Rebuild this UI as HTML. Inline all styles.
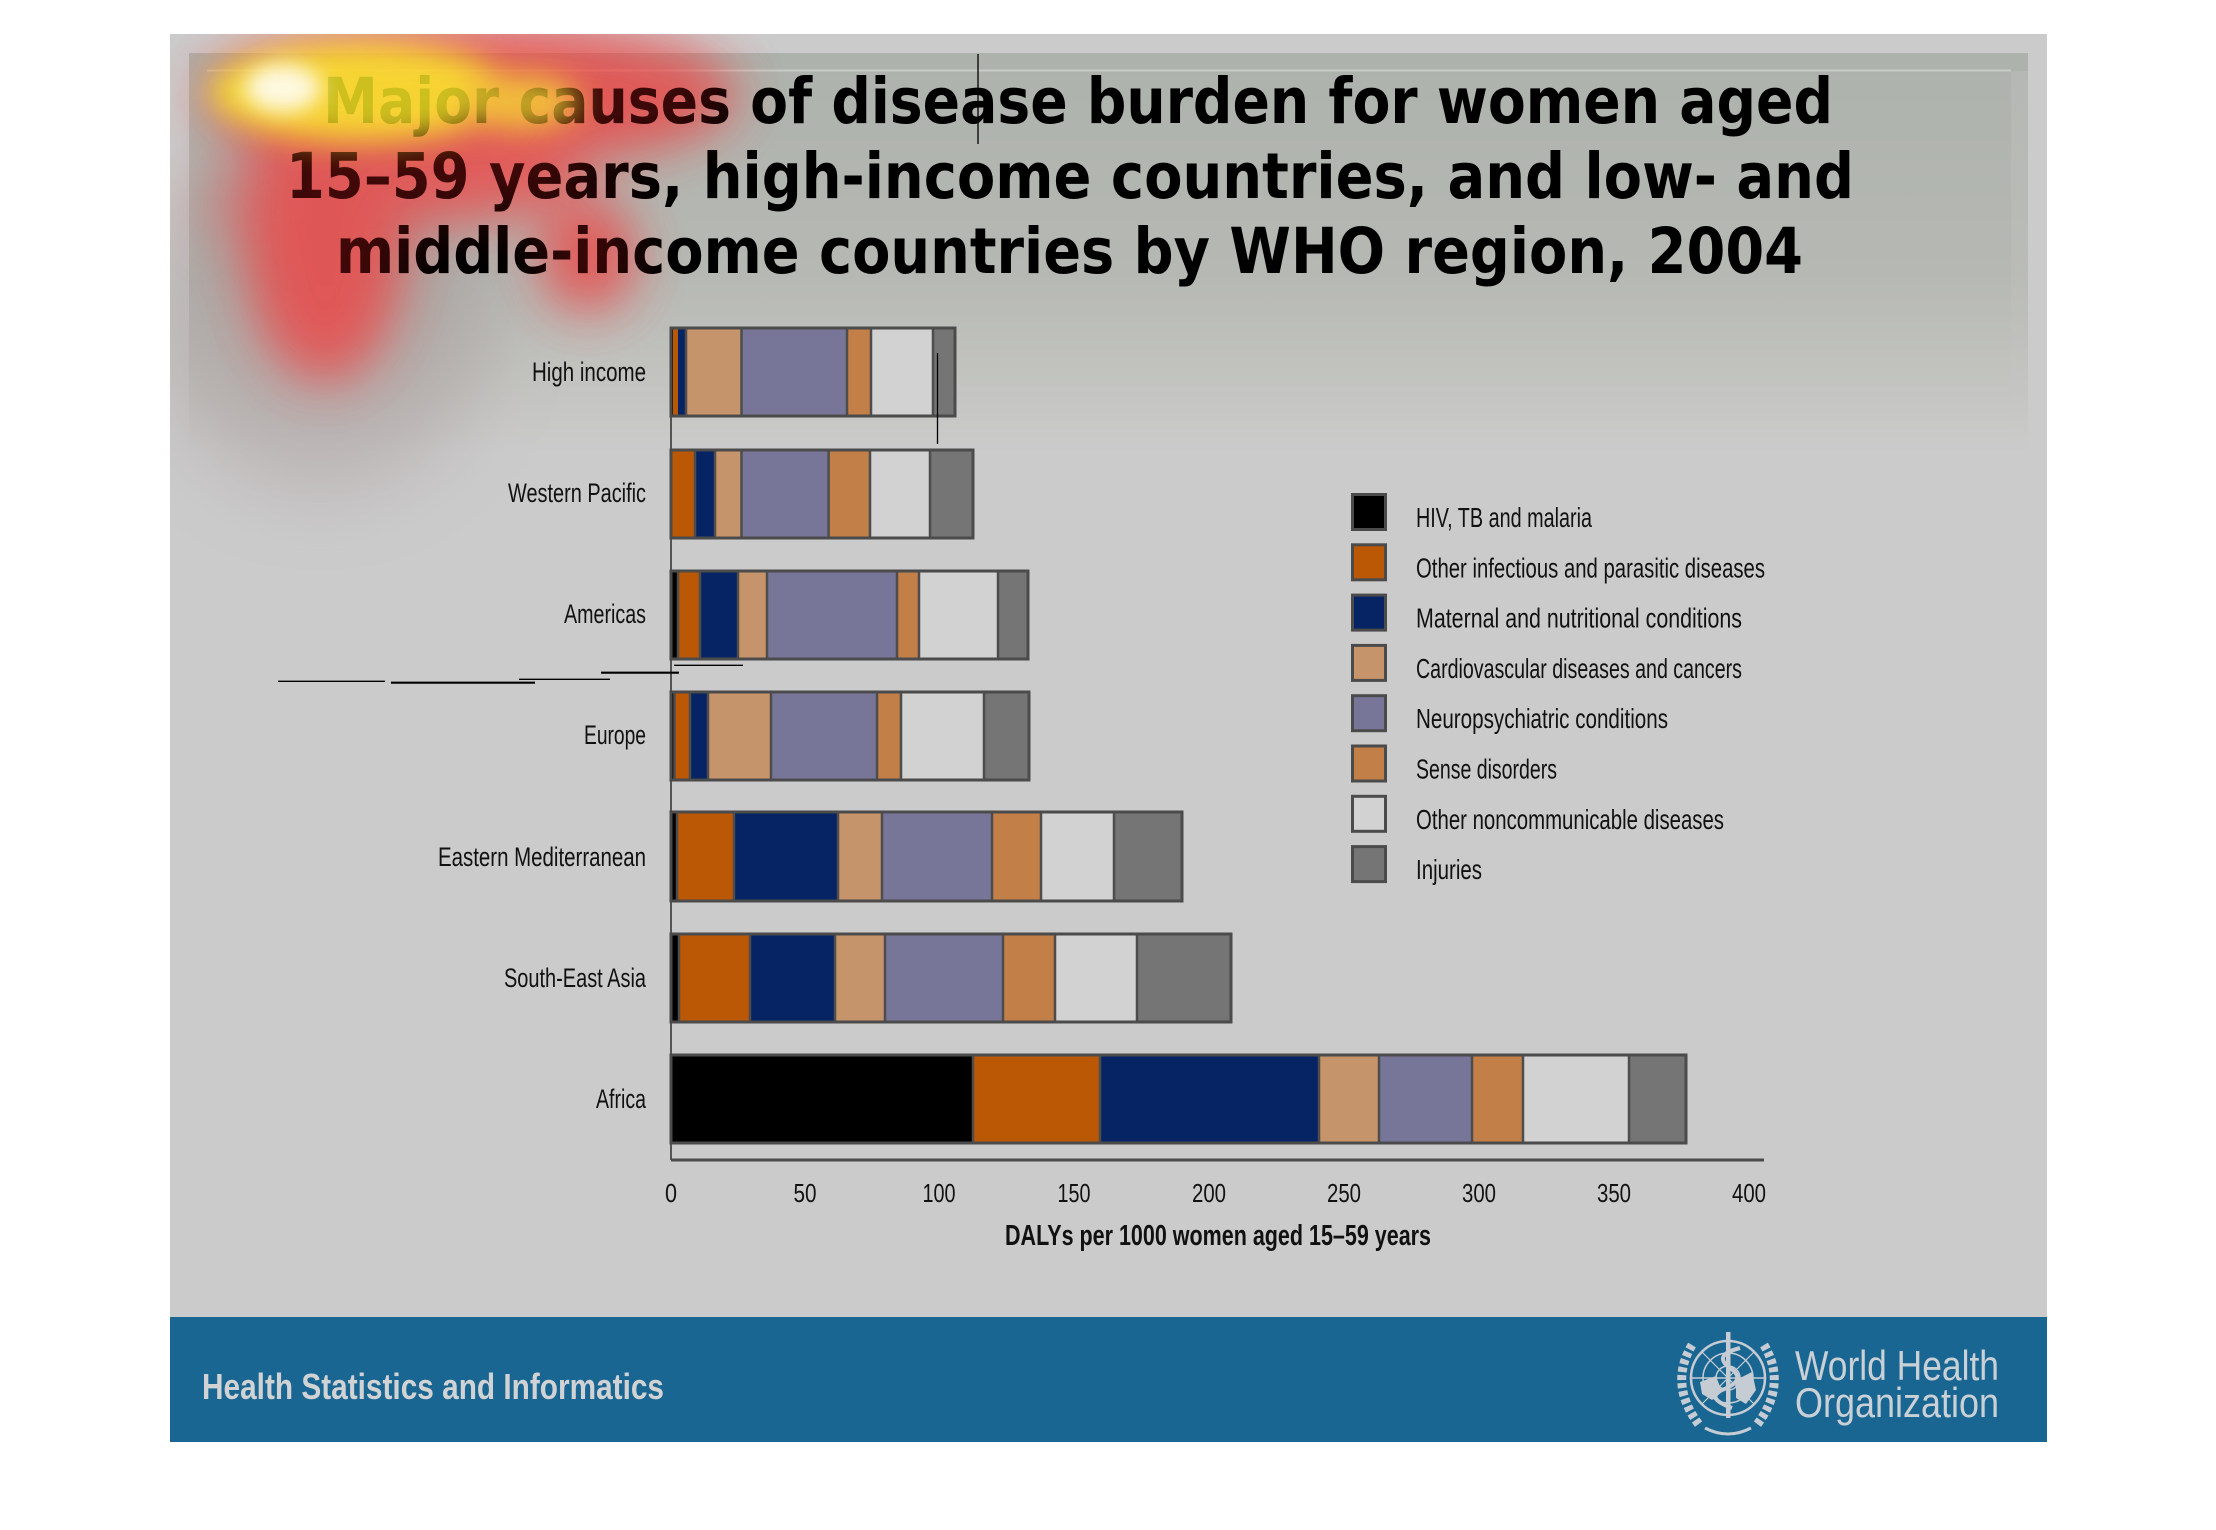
<!DOCTYPE html>
<html><head><meta charset="utf-8"><style>
html,body{margin:0;padding:0;background:#fff;}
svg{display:block;}
.lab{font-family:"Liberation Sans Narrow","Liberation Sans",sans-serif;font-size:27px;fill:#111;}
.ttl{font-family:"DejaVu Sans","Liberation Sans",sans-serif;font-weight:bold;font-size:63px;fill:#000;}
</style></head><body>
<svg width="2216" height="1530" viewBox="0 0 2216 1530" xmlns="http://www.w3.org/2000/svg">
<defs>
<linearGradient id="topg" x1="0" y1="0" x2="0" y2="1">
<stop offset="0" stop-color="#adb2ac"/>
<stop offset="0.55" stop-color="#b6b8b3"/>
<stop offset="0.8" stop-color="#c2c3bf"/>
<stop offset="1" stop-color="#cbcbcb"/>
</linearGradient>
<linearGradient id="strip" x1="0" y1="0" x2="0" y2="1">
<stop offset="0" stop-color="#b9bcb8" stop-opacity="0.6"/>
<stop offset="1" stop-color="#cbcbcb" stop-opacity="0"/>
</linearGradient>
<filter id="b40" x="-50%" y="-50%" width="200%" height="200%"><feGaussianBlur stdDeviation="40"/></filter>
<filter id="b25" x="-50%" y="-50%" width="200%" height="200%"><feGaussianBlur stdDeviation="26"/></filter>
<filter id="b16" x="-50%" y="-50%" width="200%" height="200%"><feGaussianBlur stdDeviation="15"/></filter>
<filter id="b10" x="-50%" y="-50%" width="200%" height="200%"><feGaussianBlur stdDeviation="10"/></filter>
<clipPath id="slideclip"><rect x="170" y="34" width="1877" height="1283"/></clipPath>
</defs>
<rect x="0" y="0" width="2216" height="1530" fill="#ffffff"/>
<!-- slide -->
<rect x="170" y="34" width="1877" height="1408" fill="#cbcbcb"/>
<rect x="189" y="53" width="1839" height="400" fill="url(#topg)"/>
<line x1="207" y1="70.5" x2="2011" y2="70.5" stroke="#c7cbc6" stroke-width="2"/>
<rect x="2011" y="71" width="17" height="380" fill="url(#strip)"/>

<!-- heatmap base (behind text) -->
<g clip-path="url(#slideclip)">
<g filter="url(#b40)" opacity="0.35">
<ellipse cx="320" cy="310" rx="170" ry="180" fill="#9a8686"/>
</g>
<g filter="url(#b25)" opacity="0.62">
<ellipse cx="470" cy="95" rx="265" ry="70" fill="#ee4040"/>
<ellipse cx="325" cy="230" rx="78" ry="150" fill="#ee4444"/>
<ellipse cx="430" cy="178" rx="150" ry="42" fill="#ee4848"/>
<ellipse cx="588" cy="255" rx="45" ry="55" fill="#ee4040"/>
<ellipse cx="230" cy="200" rx="30" ry="45" fill="#e06060" opacity="0.6"/>
</g>
</g>

<!-- title -->
<text class="ttl" x="323" y="123" textLength="1510" lengthAdjust="spacingAndGlyphs">Major causes of disease burden for women aged</text>
<text class="ttl" x="286" y="198" textLength="1568" lengthAdjust="spacingAndGlyphs">15–59 years, high-income countries, and low- and</text>
<text class="ttl" x="336" y="273" textLength="1467" lengthAdjust="spacingAndGlyphs">middle-income countries by WHO region, 2004</text>

<!-- heatmap tint (over text) -->
<g clip-path="url(#slideclip)">
<g filter="url(#b25)" opacity="0.25">
<ellipse cx="470" cy="95" rx="265" ry="70" fill="#ff2020"/>
<ellipse cx="325" cy="230" rx="78" ry="150" fill="#ff2020"/>
<ellipse cx="430" cy="178" rx="150" ry="42" fill="#ff2020"/>
<ellipse cx="588" cy="255" rx="45" ry="55" fill="#ff2020"/>
</g>
<g filter="url(#b16)" opacity="0.74">
<ellipse cx="360" cy="92" rx="150" ry="50" fill="#ffff28"/>
<ellipse cx="520" cy="102" rx="60" ry="28" fill="#f8e030"/>
</g>
<g filter="url(#b10)" opacity="0.85">
<ellipse cx="283" cy="88" rx="38" ry="24" fill="#ffffff"/>
</g>
</g>

<!-- axis -->
<line x1="671" y1="328" x2="671" y2="1160" stroke="#555" stroke-width="2"/>

<!-- bars -->
<g stroke="none">
<rect x="671" y="328" width="2" height="88" fill="#000"/>
<rect x="673" y="328" width="5" height="88" fill="#bb5806"/>
<rect x="678" y="328" width="8" height="88" fill="#062464"/>
<rect x="686" y="328" width="55.5" height="88" fill="#c6946a"/>
<rect x="741.5" y="328" width="105.5" height="88" fill="#787698"/>
<rect x="847" y="328" width="24" height="88" fill="#c27f48"/>
<rect x="871" y="328" width="62" height="88" fill="#d2d2d2"/>
<rect x="933" y="328" width="22" height="88" fill="#757575"/>
<rect x="671" y="450" width="24" height="88" fill="#bb5806"/>
<rect x="695" y="450" width="20" height="88" fill="#062464"/>
<rect x="715" y="450" width="26.5" height="88" fill="#c6946a"/>
<rect x="741.5" y="450" width="87.1" height="88" fill="#787698"/>
<rect x="828.6" y="450" width="41.4" height="88" fill="#c27f48"/>
<rect x="870" y="450" width="60" height="88" fill="#d2d2d2"/>
<rect x="930" y="450" width="43" height="88" fill="#757575"/>
<rect x="671" y="571" width="7" height="88" fill="#000"/>
<rect x="678" y="571" width="22" height="88" fill="#bb5806"/>
<rect x="700" y="571" width="38" height="88" fill="#062464"/>
<rect x="738" y="571" width="29" height="88" fill="#c6946a"/>
<rect x="767" y="571" width="130" height="88" fill="#787698"/>
<rect x="897" y="571" width="22" height="88" fill="#c27f48"/>
<rect x="919" y="571" width="79" height="88" fill="#d2d2d2"/>
<rect x="998" y="571" width="30" height="88" fill="#757575"/>
<rect x="671" y="692" width="3.5" height="88" fill="#000"/>
<rect x="674.5" y="692" width="15.5" height="88" fill="#bb5806"/>
<rect x="690" y="692" width="18" height="88" fill="#062464"/>
<rect x="708" y="692" width="63" height="88" fill="#c6946a"/>
<rect x="771" y="692" width="106" height="88" fill="#787698"/>
<rect x="877" y="692" width="24" height="88" fill="#c27f48"/>
<rect x="901" y="692" width="83" height="88" fill="#d2d2d2"/>
<rect x="984" y="692" width="45" height="88" fill="#757575"/>
<rect x="671" y="812" width="6" height="89" fill="#000"/>
<rect x="677" y="812" width="57" height="89" fill="#bb5806"/>
<rect x="734" y="812" width="104" height="89" fill="#062464"/>
<rect x="838" y="812" width="44" height="89" fill="#c6946a"/>
<rect x="882" y="812" width="110" height="89" fill="#787698"/>
<rect x="992" y="812" width="49" height="89" fill="#c27f48"/>
<rect x="1041" y="812" width="73" height="89" fill="#d2d2d2"/>
<rect x="1114" y="812" width="68" height="89" fill="#757575"/>
<rect x="671" y="934" width="8" height="88" fill="#000"/>
<rect x="679" y="934" width="71" height="88" fill="#bb5806"/>
<rect x="750" y="934" width="85" height="88" fill="#062464"/>
<rect x="835" y="934" width="50" height="88" fill="#c6946a"/>
<rect x="885" y="934" width="118" height="88" fill="#787698"/>
<rect x="1003" y="934" width="52" height="88" fill="#c27f48"/>
<rect x="1055" y="934" width="82" height="88" fill="#d2d2d2"/>
<rect x="1137" y="934" width="94" height="88" fill="#757575"/>
<rect x="671" y="1055" width="302" height="88" fill="#000"/>
<rect x="973" y="1055" width="127" height="88" fill="#bb5806"/>
<rect x="1100" y="1055" width="219" height="88" fill="#062464"/>
<rect x="1319" y="1055" width="60" height="88" fill="#c6946a"/>
<rect x="1379" y="1055" width="93" height="88" fill="#787698"/>
<rect x="1472" y="1055" width="51" height="88" fill="#c27f48"/>
<rect x="1523" y="1055" width="106" height="88" fill="#d2d2d2"/>
<rect x="1629" y="1055" width="57" height="88" fill="#757575"/>
</g>
<g stroke="#4d4d4d" stroke-width="2.5">
<line x1="686" y1="328" x2="686" y2="416"/><line x1="741.5" y1="328" x2="741.5" y2="416"/><line x1="847" y1="328" x2="847" y2="416"/><line x1="871" y1="328" x2="871" y2="416"/><line x1="933" y1="328" x2="933" y2="416"/>
<line x1="695" y1="450" x2="695" y2="538"/><line x1="715" y1="450" x2="715" y2="538"/><line x1="741.5" y1="450" x2="741.5" y2="538"/><line x1="828.6" y1="450" x2="828.6" y2="538"/><line x1="870" y1="450" x2="870" y2="538"/><line x1="930" y1="450" x2="930" y2="538"/>
<line x1="678" y1="571" x2="678" y2="659"/><line x1="700" y1="571" x2="700" y2="659"/><line x1="738" y1="571" x2="738" y2="659"/><line x1="767" y1="571" x2="767" y2="659"/><line x1="897" y1="571" x2="897" y2="659"/><line x1="919" y1="571" x2="919" y2="659"/><line x1="998" y1="571" x2="998" y2="659"/>
<line x1="674.5" y1="692" x2="674.5" y2="780"/><line x1="690" y1="692" x2="690" y2="780"/><line x1="708" y1="692" x2="708" y2="780"/><line x1="771" y1="692" x2="771" y2="780"/><line x1="877" y1="692" x2="877" y2="780"/><line x1="901" y1="692" x2="901" y2="780"/><line x1="984" y1="692" x2="984" y2="780"/>
<line x1="677" y1="812" x2="677" y2="901"/><line x1="734" y1="812" x2="734" y2="901"/><line x1="838" y1="812" x2="838" y2="901"/><line x1="882" y1="812" x2="882" y2="901"/><line x1="992" y1="812" x2="992" y2="901"/><line x1="1041" y1="812" x2="1041" y2="901"/><line x1="1114" y1="812" x2="1114" y2="901"/>
<line x1="679" y1="934" x2="679" y2="1022"/><line x1="750" y1="934" x2="750" y2="1022"/><line x1="835" y1="934" x2="835" y2="1022"/><line x1="885" y1="934" x2="885" y2="1022"/><line x1="1003" y1="934" x2="1003" y2="1022"/><line x1="1055" y1="934" x2="1055" y2="1022"/><line x1="1137" y1="934" x2="1137" y2="1022"/>
<line x1="973" y1="1055" x2="973" y2="1143"/><line x1="1100" y1="1055" x2="1100" y2="1143"/><line x1="1319" y1="1055" x2="1319" y2="1143"/><line x1="1379" y1="1055" x2="1379" y2="1143"/><line x1="1472" y1="1055" x2="1472" y2="1143"/><line x1="1523" y1="1055" x2="1523" y2="1143"/><line x1="1629" y1="1055" x2="1629" y2="1143"/>
</g>
<g fill="none" stroke="#4b4b4b" stroke-width="3">
<rect x="671" y="328" width="284" height="88"/>
<rect x="671" y="450" width="302" height="88"/>
<rect x="671" y="571" width="357" height="88"/>
<rect x="671" y="692" width="358" height="88"/>
<rect x="671" y="812" width="511" height="89"/>
<rect x="671" y="934" width="560" height="88"/>
<rect x="671" y="1055" width="1015" height="88"/>
</g>

<line x1="671" y1="1160" x2="1764" y2="1160" stroke="#4b4b4b" stroke-width="3"/>

<g class="lab" text-anchor="end">
<text x="646" y="381" textLength="114" lengthAdjust="spacingAndGlyphs">High income</text>
<text x="646" y="502" textLength="138" lengthAdjust="spacingAndGlyphs">Western Pacific</text>
<text x="646" y="623" textLength="82" lengthAdjust="spacingAndGlyphs">Americas</text>
<text x="646" y="744" textLength="62" lengthAdjust="spacingAndGlyphs">Europe</text>
<text x="646" y="866" textLength="208" lengthAdjust="spacingAndGlyphs">Eastern Mediterranean</text>
<text x="646" y="987" textLength="142" lengthAdjust="spacingAndGlyphs">South-East Asia</text>
<text x="646" y="1108" textLength="50" lengthAdjust="spacingAndGlyphs">Africa</text>
</g>

<g class="lab" text-anchor="middle" style="font-size:26px">
<text x="671" y="1202" textLength="12" lengthAdjust="spacingAndGlyphs">0</text>
<text x="805" y="1202" textLength="23" lengthAdjust="spacingAndGlyphs">50</text>
<text x="939" y="1202" textLength="33" lengthAdjust="spacingAndGlyphs">100</text>
<text x="1074" y="1202" textLength="33" lengthAdjust="spacingAndGlyphs">150</text>
<text x="1209" y="1202" textLength="34" lengthAdjust="spacingAndGlyphs">200</text>
<text x="1344" y="1202" textLength="34" lengthAdjust="spacingAndGlyphs">250</text>
<text x="1479" y="1202" textLength="34" lengthAdjust="spacingAndGlyphs">300</text>
<text x="1614" y="1202" textLength="34" lengthAdjust="spacingAndGlyphs">350</text>
<text x="1749" y="1202" textLength="34" lengthAdjust="spacingAndGlyphs">400</text>
</g>
<text class="lab" x="1005" y="1245" style="font-size:29px;font-weight:bold" textLength="426" lengthAdjust="spacingAndGlyphs">DALYs per 1000 women aged 15–59 years</text>

<g stroke="#4b4b4b" stroke-width="3">
<rect x="1352.5" y="494.5" width="33" height="35" fill="#000"/>
<rect x="1352.5" y="544.8" width="33" height="35" fill="#bb5806"/>
<rect x="1352.5" y="595.1" width="33" height="35" fill="#062464"/>
<rect x="1352.5" y="645.4" width="33" height="35" fill="#c6946a"/>
<rect x="1352.5" y="695.7" width="33" height="35" fill="#787698"/>
<rect x="1352.5" y="746" width="33" height="35" fill="#c27f48"/>
<rect x="1352.5" y="796.3" width="33" height="35" fill="#d2d2d2"/>
<rect x="1352.5" y="846.6" width="33" height="35" fill="#757575"/>
</g>
<g class="lab" style="font-size:28px">
<text x="1416" y="527" textLength="176" lengthAdjust="spacingAndGlyphs">HIV, TB and malaria</text>
<text x="1416" y="577.3" textLength="349" lengthAdjust="spacingAndGlyphs">Other infectious and parasitic diseases</text>
<text x="1416" y="627.6" textLength="326" lengthAdjust="spacingAndGlyphs">Maternal and nutritional conditions</text>
<text x="1416" y="677.9" textLength="326" lengthAdjust="spacingAndGlyphs">Cardiovascular diseases and cancers</text>
<text x="1416" y="728.2" textLength="252" lengthAdjust="spacingAndGlyphs">Neuropsychiatric conditions</text>
<text x="1416" y="778.5" textLength="141" lengthAdjust="spacingAndGlyphs">Sense disorders</text>
<text x="1416" y="828.8" textLength="308" lengthAdjust="spacingAndGlyphs">Other noncommunicable diseases</text>
<text x="1416" y="879.1" textLength="66" lengthAdjust="spacingAndGlyphs">Injuries</text>
</g>

<g stroke="#000">
<line x1="278" y1="681.3" x2="385" y2="681.3" stroke-width="1.3"/>
<line x1="391" y1="682.7" x2="535" y2="682.7" stroke-width="2.2"/>
<line x1="519" y1="679.3" x2="610" y2="679.3" stroke-width="1.3"/>
<line x1="601" y1="672.7" x2="679" y2="672.7" stroke-width="2.2"/>
<line x1="674" y1="665.3" x2="743" y2="665.3" stroke-width="1.3"/>
<line x1="978" y1="54" x2="978" y2="144" stroke-width="1.3"/>
<line x1="937.5" y1="353" x2="937.5" y2="444" stroke-width="1.3"/>
</g>

<!-- footer -->
<rect x="170" y="1317" width="1877" height="125" fill="#1a6692"/>
<text x="202" y="1399" style="font-family:'Liberation Sans',sans-serif;font-weight:bold;font-size:36px" fill="#d0d2d4" textLength="462" lengthAdjust="spacingAndGlyphs">Health Statistics and Informatics</text>
<text x="1795" y="1380" style="font-family:'Liberation Sans',sans-serif;font-size:42px" fill="#c9d0d6" textLength="204" lengthAdjust="spacingAndGlyphs">World Health</text>
<text x="1795" y="1417" style="font-family:'Liberation Sans',sans-serif;font-size:42px" fill="#c9d0d6" textLength="204" lengthAdjust="spacingAndGlyphs">Organization</text>
<g fill="none" stroke="#c5ccd3">
<circle cx="1728" cy="1378" r="37" stroke-width="2.5"/>
<circle cx="1728" cy="1378" r="25" stroke-width="1.5"/>
<circle cx="1728" cy="1378" r="12" stroke-width="1.5"/>
<line x1="1691" y1="1378" x2="1765" y2="1378" stroke-width="1.5"/>
<line x1="1702" y1="1352" x2="1754" y2="1404" stroke-width="1.2"/>
<line x1="1754" y1="1352" x2="1702" y2="1404" stroke-width="1.2"/>
<path d="M1692 1345 Q1668 1385 1700 1426" stroke-width="9" stroke-dasharray="5 3"/>
<path d="M1764 1345 Q1788 1385 1756 1426" stroke-width="9" stroke-dasharray="5 3"/>
<path d="M1705 1428 Q1728 1440 1751 1428" stroke-width="3"/>
<path d="M1740 1348 Q1712 1355 1730 1368 Q1748 1380 1722 1390 Q1705 1398 1732 1408" stroke-width="4"/>
</g>
<g fill="#c5ccd3">
<rect x="1726" y="1332" width="4.5" height="86"/>
<path d="M1700 1382 L1716 1376 L1722 1392 L1712 1400 L1702 1394 Z"/>
<path d="M1736 1380 L1752 1372 L1756 1390 L1746 1404 L1736 1398 Z"/>
</g>
</svg>
</body></html>
